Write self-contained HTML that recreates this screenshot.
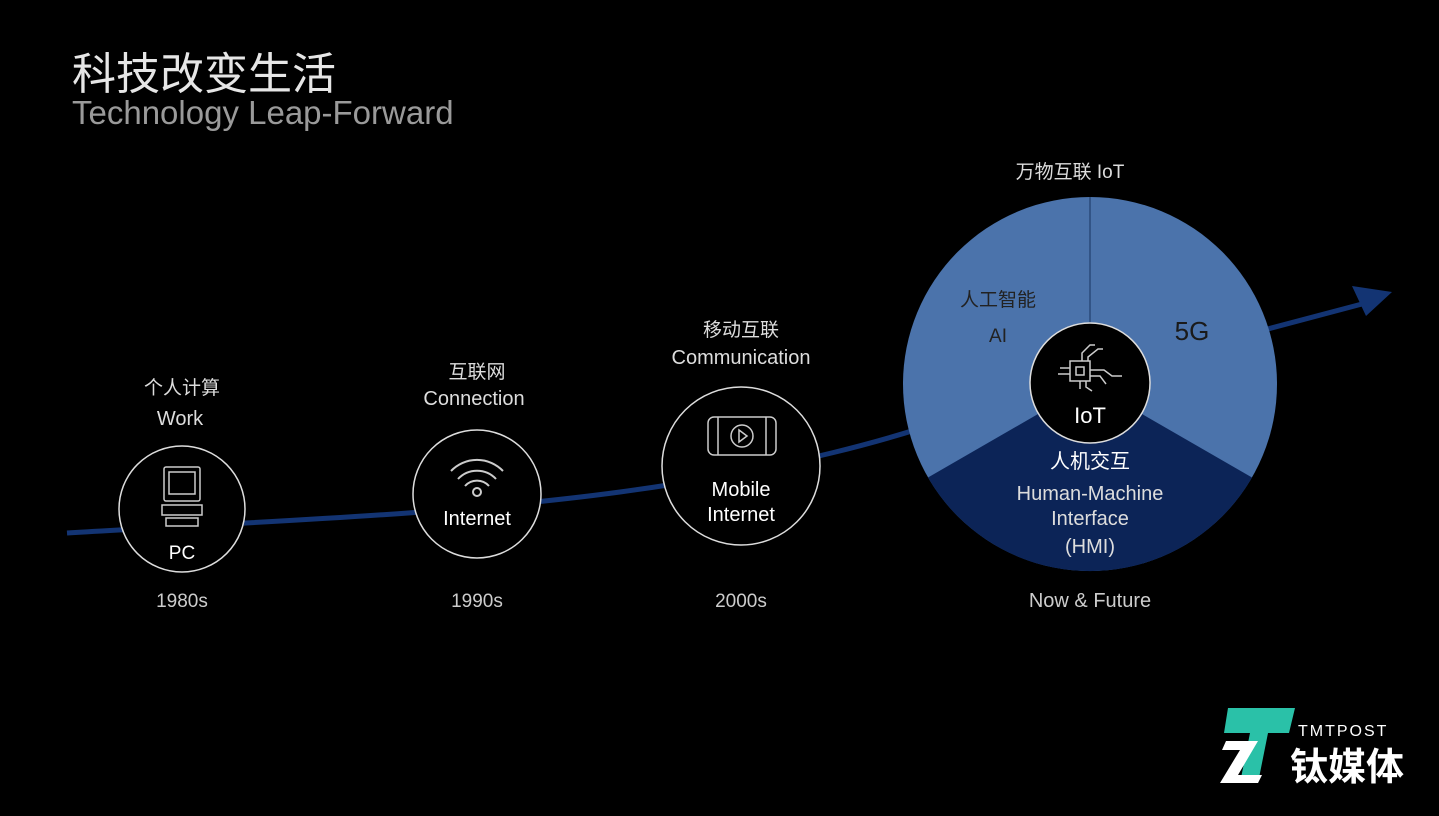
<!DOCTYPE html>
<html><head><meta charset="utf-8"><style>
body{margin:0;background:#000;width:1439px;height:811px;overflow:hidden;font-family:"Liberation Sans","Noto Sans CJK SC",sans-serif;}
svg text{font-family:"Liberation Sans","Noto Sans CJK SC",sans-serif;}
</style></head><body>
<svg width="1439" height="811" viewBox="0 0 1439 811">
<rect width="1439" height="811" fill="#000"/>
<text x="72" y="89" fill="#e6e6e6" font-size="44">科技改变生活</text>
<text x="72" y="124" fill="#9a9a9a" font-size="33">Technology Leap-Forward</text>
<!-- curve -->
<path d="M67,533 C250,522 450,515 620,492 C780,470 900,440 1000,400 L1362,304" stroke="#133473" stroke-width="5" fill="none"/>
<polygon points="1392,292 1352,286 1366,316" fill="#133473"/>
<!-- big circle -->
<circle cx="1090" cy="384" r="187" fill="#4b73ab"/>
<path d="M1090,384 L928,477.5 A187,187 0 0 0 1252,477.5 Z" fill="#0c2457"/>
<line x1="1090" y1="197" x2="1090" y2="384" stroke="#2a4a7a" stroke-width="1.5"/>
<circle cx="1090" cy="383" r="60" fill="#000" stroke="#ddd" stroke-width="1.5"/>
<g stroke="#ccc" stroke-width="1.5" fill="none">
<rect x="1070" y="361" width="20" height="20"/><rect x="1076" y="367" width="8" height="8"/>
<path d="M1082,361 v-8 l8,-8 h5 M1088,361 v-4 l10,-8 h5 M1090,370 h14 l8,6 h10 M1090,376 h10 l6,8 M1080,381 v8 M1086,381 v6 l6,4 M1070,368 h-10 M1070,374 h-12"/>
</g>
<text x="1090" y="423" fill="#fff" font-size="22" text-anchor="middle">IoT</text>
<text x="1070" y="178" fill="#ddd" font-size="19" text-anchor="middle">万物互联  IoT</text>
<text x="998" y="306" fill="#222" font-size="19" text-anchor="middle">人工智能</text>
<text x="998" y="342" fill="#222" font-size="19" text-anchor="middle">AI</text>
<text x="1192" y="340" fill="#1a1a1a" font-size="26" text-anchor="middle">5G</text>
<text x="1090" y="468" fill="#fff" font-size="20" text-anchor="middle">人机交互</text>
<text x="1090" y="500" fill="#ddd" font-size="20" text-anchor="middle">Human-Machine</text>
<text x="1090" y="525" fill="#ddd" font-size="20" text-anchor="middle">Interface</text>
<text x="1090" y="553" fill="#ddd" font-size="20" text-anchor="middle">(HMI)</text>
<text x="1090" y="607" fill="#ccc" font-size="20" text-anchor="middle">Now &amp; Future</text>
<!-- PC -->
<circle cx="182" cy="509" r="63" fill="#000" stroke="#ddd" stroke-width="1.5"/>
<g stroke="#ccc" stroke-width="1.5" fill="none"><rect x="164" y="467" width="36" height="34" rx="2"/><rect x="169" y="472" width="26" height="22"/><rect x="162" y="505" width="40" height="10"/><rect x="166" y="518" width="32" height="8"/></g>
<text x="182" y="559" fill="#fff" font-size="19" text-anchor="middle">PC</text>
<text x="182" y="394" fill="#ddd" font-size="19" text-anchor="middle">个人计算</text>
<text x="180" y="425" fill="#ddd" font-size="20" text-anchor="middle">Work</text>
<text x="182" y="607" fill="#ccc" font-size="19" text-anchor="middle">1980s</text>
<!-- Internet -->
<circle cx="477" cy="494" r="64" fill="#000" stroke="#ddd" stroke-width="1.5"/>
<g stroke="#ccc" stroke-width="2" fill="none"><path d="M451,471 a36,36 0 0 1 52,0"/><path d="M458,479 a26,26 0 0 1 38,0"/><path d="M465,486 a16,16 0 0 1 24,0"/><circle cx="477" cy="492" r="4"/></g>
<text x="477" y="525" fill="#fff" font-size="20" text-anchor="middle">Internet</text>
<text x="477" y="378" fill="#ddd" font-size="19" text-anchor="middle">互联网</text>
<text x="474" y="405" fill="#ddd" font-size="20" text-anchor="middle">Connection</text>
<text x="477" y="607" fill="#ccc" font-size="19" text-anchor="middle">1990s</text>
<!-- Mobile -->
<circle cx="741" cy="466" r="79" fill="#000" stroke="#ddd" stroke-width="1.5"/>
<g stroke="#ccc" stroke-width="1.5" fill="none"><rect x="708" y="417" width="68" height="38" rx="6"/><line x1="718" y1="417" x2="718" y2="455"/><line x1="766" y1="417" x2="766" y2="455"/><circle cx="742" cy="436" r="11"/><path d="M739,430 l8,6 l-8,6 z"/></g>
<text x="741" y="496" fill="#fff" font-size="20" text-anchor="middle">Mobile</text>
<text x="741" y="521" fill="#fff" font-size="20" text-anchor="middle">Internet</text>
<text x="741" y="336" fill="#ddd" font-size="19" text-anchor="middle">移动互联</text>
<text x="741" y="364" fill="#ddd" font-size="20" text-anchor="middle">Communication</text>
<text x="741" y="607" fill="#ccc" font-size="19" text-anchor="middle">2000s</text>
<!-- logo -->
<polygon points="1228,708 1295,708 1289,733 1268,733 1258,783 1240,783 1250,733 1224,733" fill="#2ac1a8"/>
<polygon points="1226,741 1258,741 1238,775 1262,775 1258,783 1220,783 1240,750 1222,750" fill="#fff"/>
<text x="1298" y="736" fill="#fff" font-size="16" letter-spacing="2">TMTPOST</text>
<text x="1290" y="780" fill="#fff" font-size="38" font-weight="bold">钛媒体</text>
</svg>
</body></html>
